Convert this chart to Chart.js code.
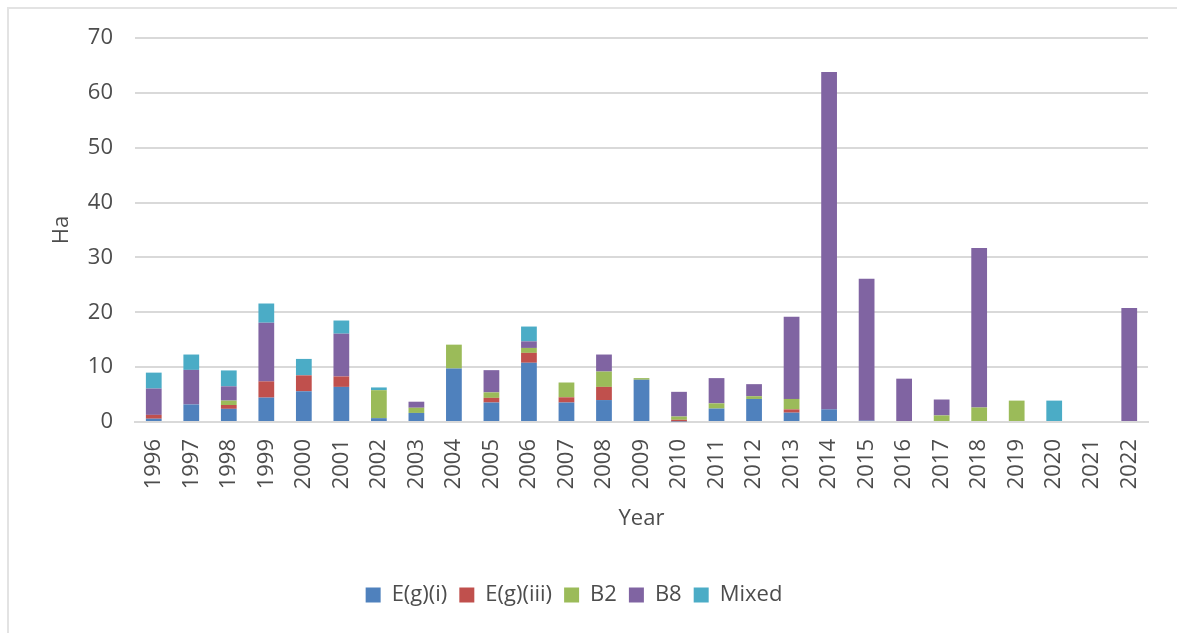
<!DOCTYPE html>
<html>
<head>
<meta charset="utf-8">
<script src="https://cdn.jsdelivr.net/npm/chart.js@4"></script>
<style>
  html, body { margin: 0; padding: 0; background: #fff; }
  #wrap { position: relative; width: 1177px; height: 633px; }
  #frame { position: absolute; left: 7px; top: 7px; width: 1180px; height: 640px; border: 2px solid #e3e3e3; box-sizing: border-box; }
  canvas { position: absolute; left: 0; top: 0; }
</style>
</head>
<body>
<div id="wrap">
  <div id="frame"></div>
  <canvas id="myChart" width="1177" height="633"></canvas>
</div>
<script>
const years = [
  '1996', '1997', '1998', '1999', '2000', '2001', '2002', '2003', '2004', '2005',
  '2006', '2007', '2008', '2009', '2010', '2011', '2012', '2013', '2014', '2015',
  '2016', '2017', '2018', '2019', '2020', '2021', '2022',
];

const egi = [0.6, 3.2, 2.4, 4.45, 5.6, 6.4, 0.7, 1.65, 9.75, 3.55, 10.8, 3.55, 4.0, 7.7, 0.1, 2.45, 4.2, 1.7, 2.3, 0.25, 0, 0, 0, 0, 0, 0, 0];
const egiii = [0.7, 0, 0.7, 2.95, 2.9, 1.9, 0, 0, 0, 0.85, 1.8, 0.95, 2.4, 0, 0.3, 0, 0, 0.6, 0, 0, 0, 0, 0, 0, 0, 0, 0];
const b2 = [0, 0, 0.8, 0, 0, 0, 5.1, 0.95, 4.35, 1.0, 0.9, 2.7, 2.8, 0.3, 0.6, 0.95, 0.5, 1.9, 0, 0, 0, 1.2, 2.65, 3.9, 0, 0, 0];
const b8 = [4.8, 6.3, 2.6, 10.7, 0, 7.8, 0, 1.1, 0, 4.05, 1.2, 0, 3.1, 0, 4.5, 4.6, 2.2, 15.0, 61.5, 25.85, 7.9, 2.9, 29.05, 0, 0, 0, 20.8];
const mixed = [2.9, 2.8, 2.9, 3.5, 3.0, 2.4, 0.5, 0, 0, 0, 2.7, 0, 0, 0, 0, 0, 0, 0, 0, 0, 0, 0, 0, 0, 3.9, 0, 0];

const yTicks = [0, 10, 20, 30, 40, 50, 60, 70];

const seriesConfig = [
  { label: 'E(g)(i)', data: egi, color: '#4f81bd' },
  { label: 'E(g)(iii)', data: egiii, color: '#c0504d' },
  { label: 'B2', data: b2, color: '#9bbb59' },
  { label: 'B8', data: b8, color: '#8064a2' },
  { label: 'Mixed', data: mixed, color: '#4bacc6' },
];

const fontFamily = "'Open Sans', 'Noto Sans', sans-serif";
const textColor = '#4d4d4d';
const gridColor = '#d9d9d9';

const datasets = seriesConfig.map(s => ({
  label: s.label,
  data: s.data,
  backgroundColor: s.color,
  borderWidth: 0,
  barPercentage: 0.42,
  categoryPercentage: 1,
}));

const ctx = document.getElementById('myChart').getContext('2d');
new Chart(ctx, {
  type: 'bar',
  data: { labels: years, datasets: datasets },
  options: {
    responsive: false,
    animation: false,
    layout: { padding: { top: 38, right: 29, left: 0, bottom: 17 } },
    scales: {
      x: {
        stacked: true,
        grid: { display: false, drawTicks: false },
        border: { display: true, color: gridColor, width: 2 },
        ticks: {
          color: textColor,
          font: { family: fontFamily, size: 22 },
          minRotation: 90,
          maxRotation: 90,
          padding: 17,
          autoSkip: false,
        },
        title: {
          display: true,
          text: 'Year',
          color: textColor,
          font: { family: fontFamily, size: 22 },
          padding: { top: 4, bottom: 40 },
        },
        afterFit: function (scale) { scale.height = 150; },
      },
      y: {
        stacked: true,
        min: 0,
        max: 70,
        grid: { color: gridColor, lineWidth: 2, drawTicks: false },
        border: { display: false },
        afterBuildTicks: function (scale) { scale.ticks = yTicks.map(v => ({ value: v })); },
        ticks: {
          color: textColor,
          font: { family: fontFamily, size: 22 },
          padding: 22,
        },
        title: {
          display: true,
          text: 'Ha',
          color: textColor,
          font: { family: fontFamily, size: 22 },
          padding: { top: 49, bottom: 0 },
        },
        afterFit: function (scale) { scale.width = 135; },
      },
    },
    plugins: {
      legend: {
        display: true,
        position: 'bottom',
        labels: {
          color: textColor,
          font: { family: fontFamily, size: 22 },
          boxWidth: 15,
          boxHeight: 15,
          padding: 12,
        },
      },
      tooltip: { enabled: false },
    },
  },
});
</script>
</body>
</html>
